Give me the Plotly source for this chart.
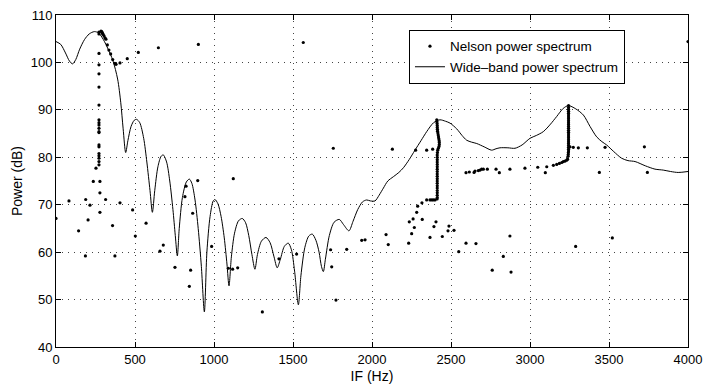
import plotly.graph_objects as go

# Wide-band power spectrum
wb_hz = [0, 30, 60, 85, 105, 125, 150, 180, 210, 243, 270, 300, 330, 360, 390, 410, 425, 441,
         455, 475, 495, 510, 530, 555, 575, 595, 610, 625, 645, 665, 679, 700, 720, 740, 755, 768,
         780, 800, 825, 844, 860, 880, 900, 920, 939, 955, 975, 995, 1006, 1025, 1045, 1065, 1082,
         1095, 1110, 1130, 1155, 1179, 1200, 1220, 1240, 1259, 1275, 1300, 1329, 1355, 1380, 1400,
         1420, 1445, 1470, 1490, 1510, 1534, 1550, 1575, 1600, 1622, 1645, 1665, 1680, 1692, 1705,
         1730, 1760, 1793, 1820, 1854, 1880, 1910, 1940, 1966, 1990, 2019, 2045, 2072, 2100, 2135,
         2170, 2199, 2235, 2272, 2310, 2346, 2390, 2430, 2465, 2494, 2536, 2570, 2599, 2630, 2663,
         2710, 2757, 2785, 2810, 2860, 2905, 2950, 3000, 3040, 3084, 3130, 3169, 3210, 3243, 3290,
         3338, 3380, 3422, 3455, 3485, 3530, 3580, 3620, 3665, 3730, 3791, 3843, 3890, 3938, 4000]
wb_db = [104.4, 103.8, 102.0, 100.3, 99.7, 100.6, 102.8, 104.8, 106.0, 106.5, 106.2, 104.8, 102.8,
         100.4, 96.5, 91.5, 86.0, 81.0, 83.5, 86.5, 87.8, 88.0, 87.3, 84.0, 79.0, 73.0, 68.4, 73.0,
         78.0, 80.2, 80.5, 79.0, 75.0, 69.0, 63.5, 59.2, 65.0, 71.5, 74.8, 75.4, 74.5, 71.0, 65.0,
         57.0, 47.4, 60.0, 67.5, 70.8, 71.1, 70.2, 67.5, 63.0, 57.5, 52.9, 59.0, 64.0, 66.6, 67.1,
         66.2, 63.5, 59.5, 56.4, 59.5, 62.3, 63.1, 62.0, 59.0, 56.7, 58.5, 61.2, 61.9, 60.5, 56.0,
         48.9, 55.0, 61.0, 63.4, 63.8, 62.5, 60.0, 57.0, 55.9, 58.5, 63.5, 66.3, 66.9, 65.8, 64.5,
         66.5, 69.0, 70.6, 71.0, 70.8, 70.8, 72.0, 73.5, 75.0, 75.9, 76.8, 77.8, 79.5, 81.5, 83.5,
         85.4, 87.3, 87.9, 87.6, 87.2, 86.0, 84.6, 83.6, 83.2, 82.9, 82.2, 81.5, 81.8, 82.0, 82.0,
         81.9, 82.6, 84.0, 84.6, 85.4, 87.0, 88.6, 90.3, 90.9, 90.2, 88.9, 86.5, 84.3, 83.3, 82.6,
         81.2, 79.8, 79.3, 79.1, 78.2, 77.5, 77.3, 77.0, 76.8, 77.0]

# Nelson power spectrum points
nelson_hz = [
    285, 289, 292, 295, 298, 304, 310, 316, 325, 335, 346, 359, 373, 380, 405, 451, 521, 648, 901,
    1565, 4000,
    272, 272, 272, 272, 272, 272, 272, 272, 272, 272, 272, 272, 272, 272, 272, 272, 272, 272, 272, 272,
    253, 236, 278, 278, 0, 82, 143, 188, 186, 203, 215, 278, 314, 358, 373, 405, 485, 502, 570, 658,
    679, 753, 816, 823, 844, 852, 865, 897, 985, 1091, 1118, 1150, 1122, 1306, 1411, 1523, 1738,
    1745, 1772, 1755, 1840, 1935, 1956, 2089, 2103, 2129, 2232, 2236, 2251, 2260, 2268, 2276, 2283,
    2289, 2316, 2318, 2346, 2346, 2367, 2367, 2378, 2384, 2388, 2392, 2399, 2405, 2445, 2481, 2487,
    2519, 2549, 2595, 2658, 2761, 2831, 2873, 2880, 3289, 3521,
    2410, 2411, 2412, 2413, 2413, 2414, 2415, 2417, 2419, 2421, 2423, 2425, 2426, 2426, 2424, 2420,
    2416, 2414, 2413, 2413, 2413, 2413, 2413, 2413, 2413, 2413, 2413, 2413, 2413, 2413, 2413, 2413,
    2413, 2413, 2413, 2413, 2413, 2412,
    2595, 2616, 2646, 2652, 2673, 2684, 2694, 2705, 2730, 2785, 2806, 2873, 2968, 3049, 3097, 3106,
    3148, 3169, 3186, 3201, 3211, 3222, 3232, 3238, 3241, 3242,
    3244, 3244, 3244, 3244, 3244, 3244, 3244, 3244, 3244, 3244, 3244, 3244, 3244, 3244, 3244, 3244,
    3244, 3244, 3244, 3244, 3244, 3244, 3244, 3244, 3244, 3243,
    3253, 3274, 3306, 3363, 3475, 3724, 3439, 3743]
nelson_db = [
    106.6, 106.5, 106.3, 106.1, 105.9, 105.6, 105.2, 104.9, 103.7, 102.6, 101.8, 100.6, 99.8, 99.6,
    99.9, 100.8, 102.1, 103.1, 103.8, 104.2, 104.4,
    106.4, 106.0, 101.9, 99.5, 97.6, 94.8, 91.0, 87.9, 87.3, 86.8, 86.1, 85.4, 85.2, 82.6, 82.2,
    80.8, 80.3, 79.8, 79.1, 78.4,
    77.7, 74.9, 74.9, 72.5, 67.1, 70.8, 64.5, 71.1, 59.2, 66.8, 69.9, 68.4, 71.1, 65.6, 59.2, 70.4,
    68.9, 63.4, 66.1, 60.2, 61.5, 56.8, 71.7, 73.9, 52.8, 56.2, 68.2, 75.1, 61.2, 56.6, 56.4, 56.7,
    75.5, 47.4, 58.6, 59.6, 60.5, 56.9, 49.9, 81.9, 60.6, 62.5, 62.6, 63.7, 61.6, 81.7, 61.9, 66.4,
    63.9, 67.0, 65.2, 81.5, 68.4, 69.7, 70.4, 66.9, 71.0, 81.5, 63.1, 71.0, 71.0, 81.7, 71.0, 65.4,
    71.0, 66.4, 63.3, 64.5, 65.5, 64.6, 60.1, 61.9, 61.8, 56.2, 59.1, 63.4, 55.8, 61.2, 63.0,
    87.9, 87.5, 87.1, 86.7, 86.3, 85.9, 85.5, 85.1, 84.7, 84.3, 83.9, 83.5, 83.1, 82.7, 82.3, 81.9,
    81.5, 81.0, 80.5, 80.0, 79.5, 79.0, 78.5, 78.0, 77.5, 77.0, 76.5, 76.0, 75.5, 75.0, 74.5, 74.0,
    73.5, 73.0, 72.5, 72.0, 71.5, 71.2,
    76.75, 76.9, 76.8, 77.1, 77.2, 77.3, 77.5, 77.5, 77.5, 77.5, 76.75, 77.5, 77.7, 77.9, 76.75,
    78.0, 78.3, 78.5, 78.7, 78.9, 79.1, 79.2, 79.4, 79.6, 80.2, 80.6,
    90.9, 90.5, 90.1, 89.7, 89.3, 88.9, 88.5, 88.1, 87.7, 87.3, 86.9, 86.5, 86.1, 85.7, 85.3, 84.9,
    84.5, 84.1, 83.7, 83.3, 82.9, 82.5, 82.1, 81.7, 81.3, 81.0,
    82.2, 82.1, 82.0, 82.0, 82.1, 82.2, 76.8, 76.8]

x_ticks = [0, 500, 1000, 1500, 2000, 2500, 3000, 3500, 4000]
y_ticks = [40, 50, 60, 70, 80, 90, 100, 110]

FONT = "Liberation Sans, Arial, Helvetica, sans-serif"

fig = go.Figure()
fig.add_trace(go.Scatter(
    x=nelson_hz, y=nelson_db, mode="markers", name="Nelson power spectrum",
    marker=dict(color="black", size=3.2, line=dict(width=0)), cliponaxis=True))
fig.add_trace(go.Scatter(
    x=wb_hz, y=wb_db, mode="lines", name="Wide\u2013band power spectrum",
    line=dict(color="black", width=1, shape="spline", smoothing=0.8)))

axis_common = dict(
    showline=True, linecolor="black", linewidth=1, mirror="ticks",
    ticks="inside", ticklen=5, tickcolor="black", tickwidth=1,
    showgrid=True, gridcolor="#444444", gridwidth=1, griddash="1px,5px",
    zeroline=False, tickfont=dict(family=FONT, size=13, color="black"),
)

fig.update_xaxes(range=[0, 4000], tickvals=x_ticks, ticktext=[str(v) for v in x_ticks],
                 title=dict(text="IF (Hz)", font=dict(family=FONT, size=14, color="black"), standoff=5),
                 **axis_common)
fig.update_yaxes(range=[40, 110], tickvals=y_ticks, ticktext=[str(v) for v in y_ticks],
                 title=dict(text="Power (dB)", font=dict(family=FONT, size=14, color="black"), standoff=4),
                 **axis_common)

fig.update_layout(
    width=703, height=385,
    margin=dict(l=56, r=15, t=15, b=38, autoexpand=False),
    paper_bgcolor="white", plot_bgcolor="white",
    font=dict(family=FONT, size=13, color="black"),
    showlegend=True,
    legend=dict(x=0.5585, y=0.955, xanchor="left", yanchor="top",
                bgcolor="white", bordercolor="black", borderwidth=1,
                font=dict(family=FONT, size=13.5, color="black"),
                tracegroupgap=0, itemwidth=30),
)

fig.write_html("out.html")
